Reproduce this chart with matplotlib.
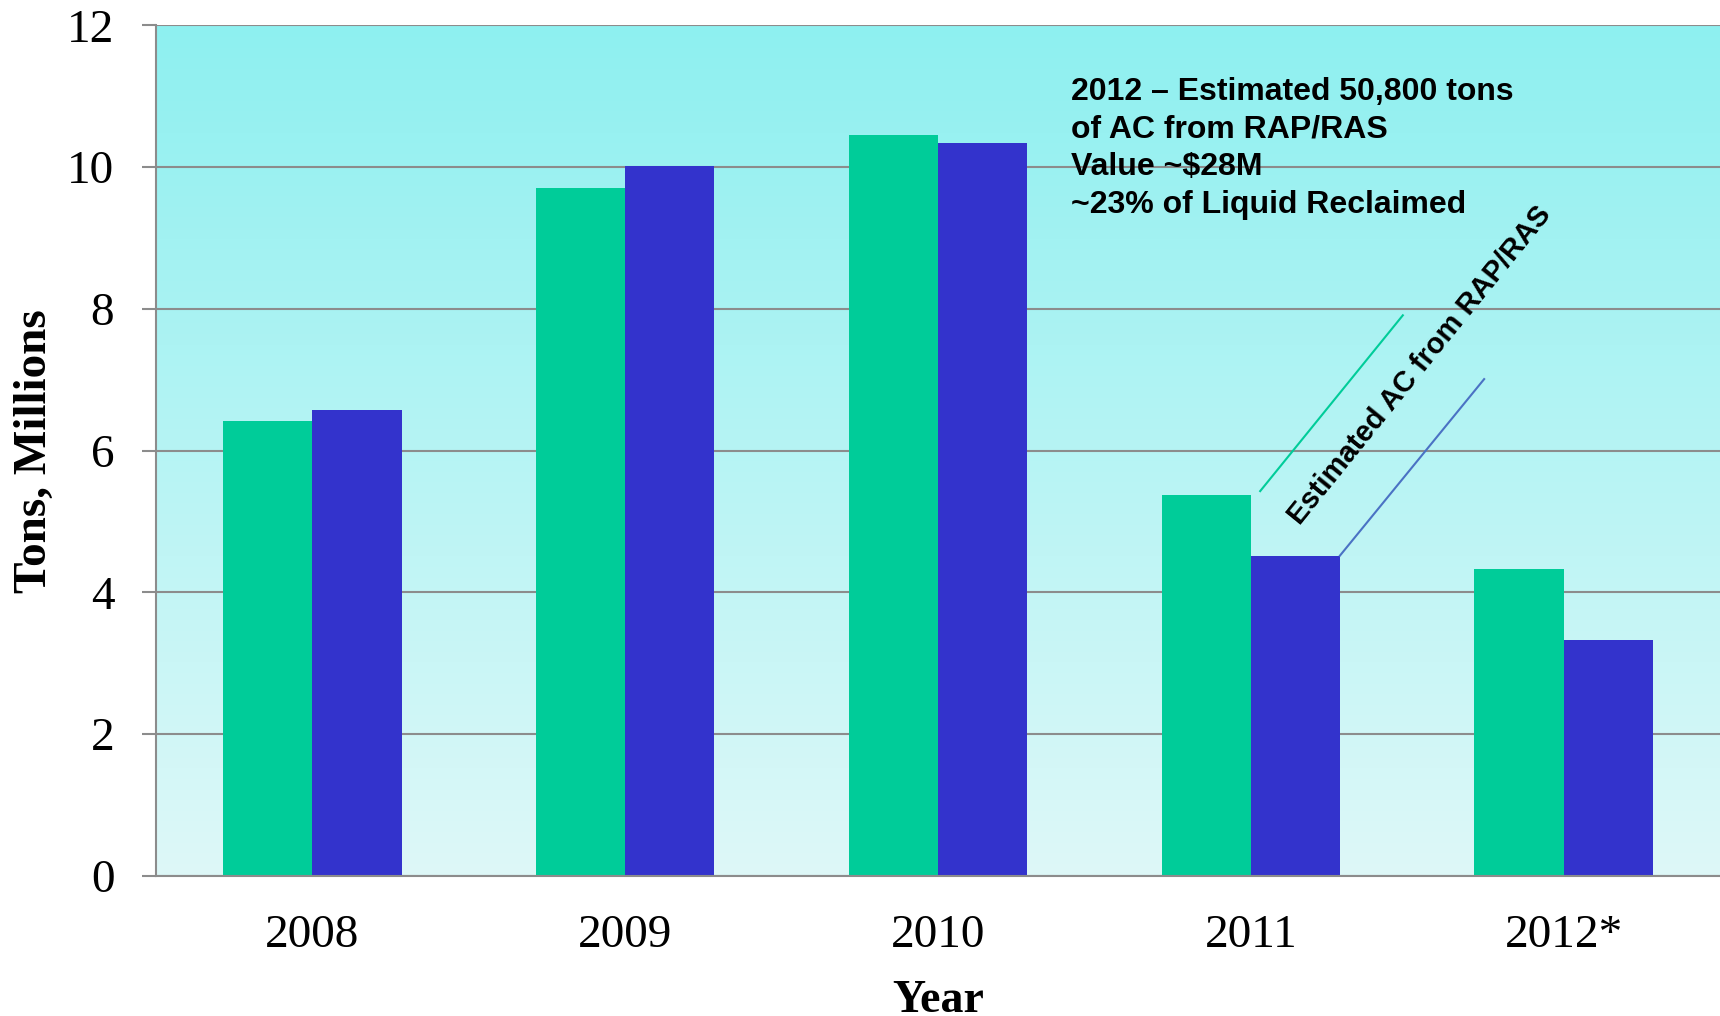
import numpy as np
import matplotlib
matplotlib.use("Agg")
import matplotlib.pyplot as plt

# data
years       = ["2008", "2009", "2010", "2011", "2012*"]
series_a    = [6.42, 9.71, 10.45, 5.37, 4.33]   # green
series_b    = [6.58, 10.02, 10.34, 4.52, 3.33]  # blue
y_ticks     = [0, 2, 4, 6, 8, 10, 12]
note_lines  = ["2012 \u2013 Estimated 50,800 tons",
               "of AC from RAP/RAS",
               "Value ~$28M",
               "~23% of Liquid Reclaimed"]
rot_label   = "Estimated AC from RAP/RAS"

GREEN = "#00CC99"
BLUE  = "#3333CC"
GRID  = "#8C8C8C"

fig = plt.figure(figsize=(17.2, 10.16), dpi=100)
ax = fig.add_axes([0.0907, 0.1378, 0.9093, 0.8372])

x = np.arange(len(years))
w = 0.285

# gradient background
top_c = np.array([142, 240, 240]) / 255
bot_c = np.array([222, 248, 248]) / 255
t = np.linspace(0, 1, 256)[:, None]
grad = (top_c * (1 - t) + bot_c * t).reshape(256, 1, 3)
ax.imshow(grad, extent=[-0.5, 4.5, 0, 12], aspect="auto", zorder=0,
          interpolation="bilinear")

ax.bar(x - w / 2, series_a, width=w, color=GREEN, zorder=2)
ax.bar(x + w / 2, series_b, width=w, color=BLUE, zorder=2)

ax.set_xlim(-0.5, 4.5)
ax.set_ylim(0, 12)
ax.set_yticks(y_ticks)
ax.set_xticks(x)
ax.set_xticklabels(years)

ax.yaxis.grid(True, color=GRID, linewidth=1.5, zorder=1)
ax.set_axisbelow(True)
for side in ["top", "right"]:
    ax.spines[side].set_visible(False)
for side in ["left", "bottom"]:
    ax.spines[side].set_color(GRID)
    ax.spines[side].set_linewidth(1.5)

ax.tick_params(axis="y", length=10, width=1.5, color=GRID, pad=20,
               labelsize=34)
ax.tick_params(axis="x", length=0, pad=28, labelsize=34)
for lab in ax.get_xticklabels() + ax.get_yticklabels():
    lab.set_fontfamily("Liberation Serif")

ax.set_xlabel("Year", fontsize=33, fontweight="bold",
              fontfamily="Liberation Serif", labelpad=16)
ax.set_ylabel("Tons, Millions", fontsize=34, fontweight="bold",
              fontfamily="Liberation Serif", labelpad=8)

# annotation block
ax.text(2.426, 11.27, "\n".join(note_lines), ha="left", va="top",
        fontsize=23, fontweight="bold", fontfamily="Liberation Sans",
        linespacing=1.33, zorder=5)

# pointer lines and rotated label
ax.plot([3.03, 3.486], [5.43, 7.91], color=GREEN, linewidth=1.5, zorder=4)
ax.plot([3.285, 3.746], [4.52, 7.01], color="#4A72C4", linewidth=1.5,
        zorder=4)
ax.text(3.54, 7.2, rot_label, rotation=51, rotation_mode="anchor",
        ha="center", va="center", fontsize=21, fontweight="bold",
        fontfamily="Liberation Sans", zorder=5)

fig.savefig("out.png", dpi=100)
